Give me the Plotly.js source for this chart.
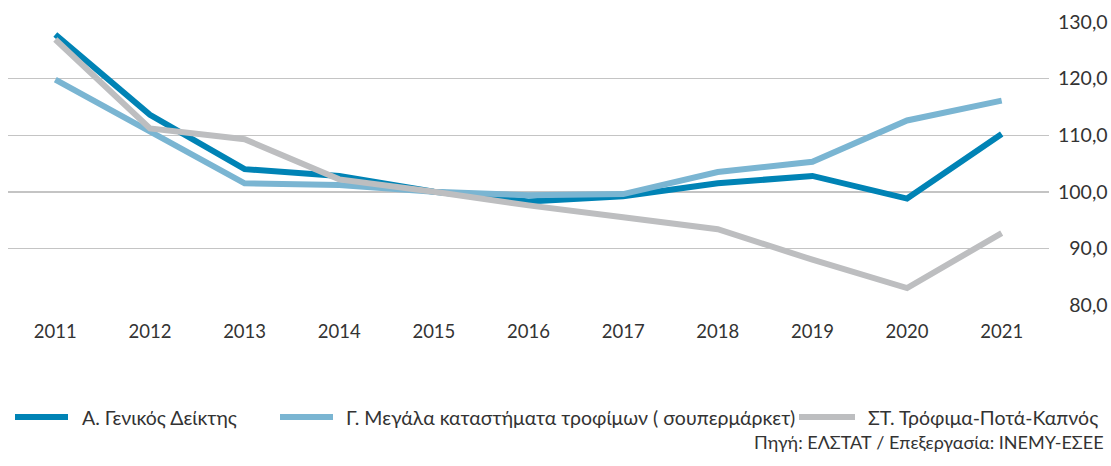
<!DOCTYPE html>
<html>
<head>
<meta charset="utf-8">
<script src="https://cdn.plot.ly/plotly-3.0.1.min.js"></script>
<style>html,body{margin:0;padding:0;background:#fff;}#chart{width:1111px;height:466px;}</style>
</head>
<body>
<div id="chart"></div>
<script>
const years = ['2011','2012','2013','2014','2015','2016','2017','2018','2019','2020','2021'];
const seriesNames = ['Α. Γενικός Δείκτης', 'Γ. Μεγάλα καταστήματα τροφίμων ( σουπερμάρκετ)', 'ΣΤ. Τρόφιμα-Ποτά-Καπνός'];
const generalIndex = [127.8, 113.6, 104.0, 102.8, 100.0, 98.3, 99.2, 101.5, 102.8, 98.8, 110.2];
const supermarkets = [119.8, 110.8, 101.5, 101.2, 100.0, 99.4, 99.6, 103.5, 105.3, 112.6, 116.1];
const foodDrinkTobacco = [126.9, 111.2, 109.3, 102.2, 100.0, 97.6, 95.5, 93.4, 88.0, 83.0, 92.7];
const yTickVals = [80, 90, 100, 110, 120, 130];
const yTickText = ['\u200780,0', '\u200790,0', '100,0', '110,0', '120,0', '130,0'];
const sourceText = 'Πηγή: ΕΛΣΤΑΤ / Επεξεργασία: ΙΝΕΜΥ-ΕΣΕΕ';
const colors = ['#0083b5', '#7ab5d2', '#bdbec0'];
const values = [generalIndex, supermarkets, foodDrinkTobacco];

const FONT = 'Lato, "Noto Sans", sans-serif';
const TXT = '#333333';
const traces = values.map((v, i) => ({
  x: years, y: v, name: seriesNames[i], type: 'scatter', mode: 'lines',
  line: {color: colors[i], width: 6}, showlegend: false, hoverinfo: 'skip'
}));

// custom legend (positions in paper coordinates)
const legendItems = [
  {x0: 15, x1: 68, tx: 80},
  {x0: 280, x1: 333, tx: 344},
  {x0: 799, x1: 855, tx: 866}
];
const L = 8, R = 62, T = 22, B = 161, W = 1111, H = 466;
const pw = W - L - R, ph = H - T - B;
const px = x => (x - L) / pw;
const py = y => (H - B - y) / ph;
const shapes = legendItems.map((it, i) => ({
  type: 'line', xref: 'paper', yref: 'paper',
  x0: px(it.x0), x1: px(it.x1), y0: py(417), y1: py(417),
  line: {color: colors[i], width: 6}
}));
const annotations = legendItems.map((it, i) => ({
  xref: 'paper', yref: 'paper', x: px(it.tx), y: py(417),
  xanchor: 'left', yanchor: 'middle', showarrow: false,
  text: seriesNames[i], font: {family: FONT, size: 19.5, color: TXT}
}));
annotations.push({
  xref: 'paper', yref: 'paper', x: px(1106), y: py(442),
  xanchor: 'right', yanchor: 'middle', showarrow: false,
  text: sourceText, font: {family: FONT, size: 18, color: TXT}
});

const layout = {
  width: W, height: H,
  margin: {l: L, r: R, t: T, b: B},
  paper_bgcolor: '#ffffff', plot_bgcolor: '#ffffff',
  font: {family: FONT, size: 18, color: TXT},
  separators: ',.',
  xaxis: {
    type: 'category', range: [-0.5, 10.5], showgrid: false, zeroline: false, showline: false,
    ticks: '', ticklabelstandoff: 13,
    tickfont: {family: FONT, size: 18.5, color: TXT}
  },
  yaxis: {
    side: 'right', range: [80, 130], tickvals: yTickVals, ticktext: yTickText,
    showgrid: true, gridcolor: '#c4c4c4', gridwidth: 1.4,
    zeroline: false, showline: false, ticks: '', ticklabelstandoff: 8,
    tickfont: {family: FONT, size: 19.5, color: TXT}
  },
  shapes: shapes,
  annotations: annotations
};

Plotly.newPlot('chart', traces, layout, {displayModeBar: false, staticPlot: true});
</script>
</body>
</html>
